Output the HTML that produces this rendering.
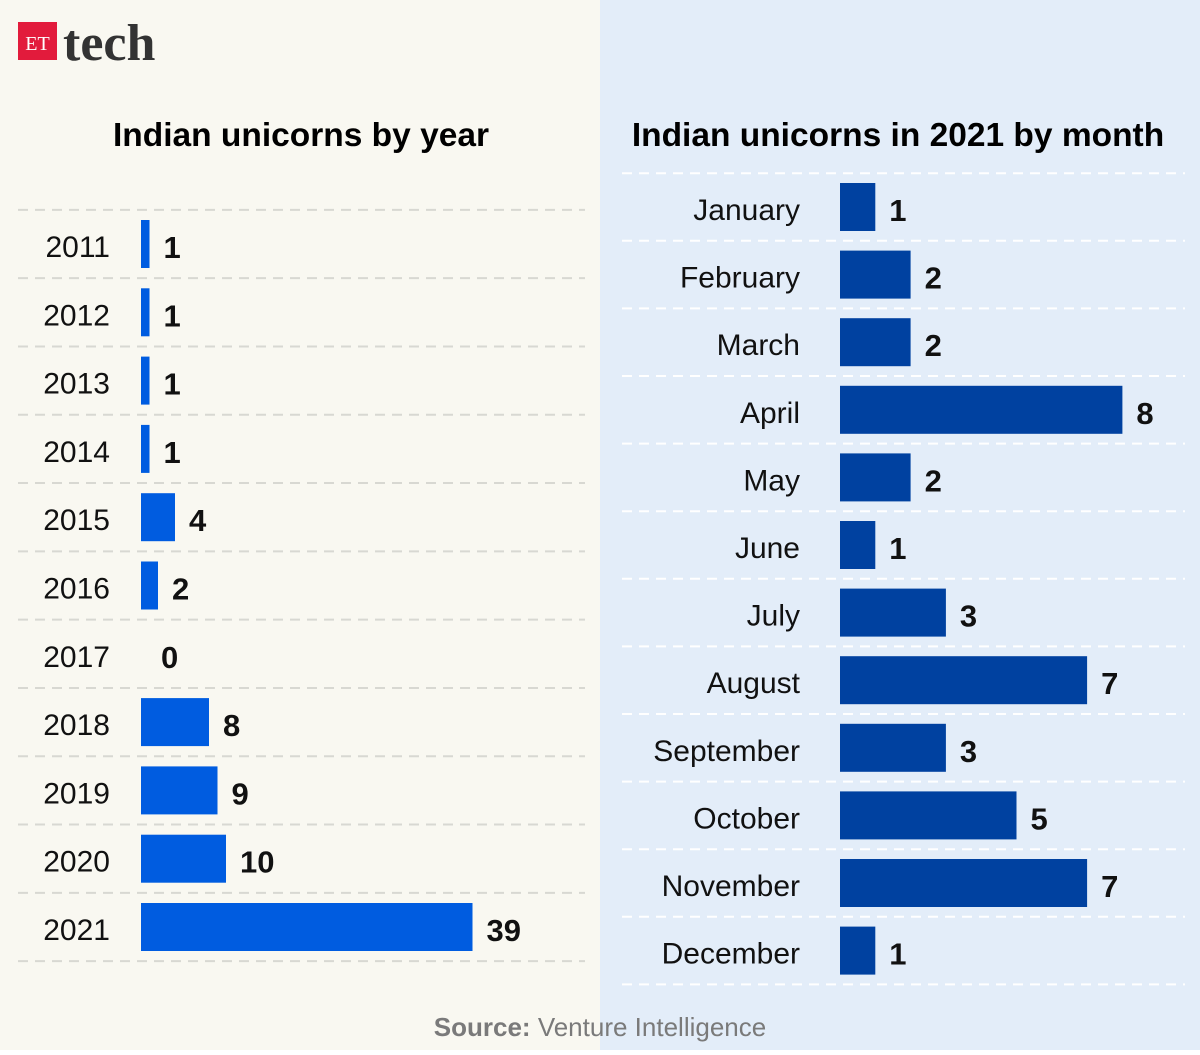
<!DOCTYPE html>
<html><head><meta charset="utf-8"><style>
body{margin:0}
svg text{font-family:"Liberation Sans",sans-serif}
</style></head><body>
<svg width="1200" height="1050" xmlns="http://www.w3.org/2000/svg">
<rect x="0" y="0" width="600" height="1050" fill="#f9f8f1"/>
<rect x="600" y="0" width="600" height="1050" fill="#e3edf9"/>
<g>
<rect x="18" y="22" width="39" height="38" fill="#e21b3c"/>
<text x="37.5" y="50" font-size="20" fill="#fff" text-anchor="middle" style="font-family:'Liberation Serif',serif">ET</text>
<text x="63" y="60" font-size="52" font-weight="bold" fill="#333" style="font-family:'Liberation Serif',serif">tech</text>
</g>
<text x="301" y="146" font-size="33.5" font-weight="bold" text-anchor="middle">Indian unicorns by year</text>
<text x="898" y="146" font-size="33.5" font-weight="bold" text-anchor="middle">Indian unicorns in 2021 by month</text>
<g id="left"></g><g id="right"></g>
<text x="600" y="1036" font-size="26" fill="#7a7a7a" text-anchor="middle"><tspan font-weight="bold">Source:</tspan> Venture Intelligence</text>
</svg>
<script>
const years=["2011","2012","2013","2014","2015","2016","2017","2018","2019","2020","2021"];
const yearCounts=[1,1,1,1,4,2,0,8,9,10,39];
const months=["January","February","March","April","May","June","July","August","September","October","November","December"];
const monthCounts=[1,2,2,8,2,1,3,7,3,5,7,1];
const NS="http://www.w3.org/2000/svg";
function mk(t,a,p){const e=document.createElementNS(NS,t);for(const k in a)e.setAttribute(k,a[k]);p.appendChild(e);return e;}
function draw(g,cats,vals,o){
  const y=i=>o.y0+i*o.step;
  const x=v=>o.x0+v*o.scale;
  for(let i=0;i<=cats.length;i++){
    const l=mk('line',{x1:o.gx1,x2:o.gx2,y1:y(i)-o.step/2,y2:y(i)-o.step/2,stroke:o.grid,'stroke-width':2,'stroke-dasharray':'10 7'},g);
    
    
  }
  cats.forEach((c,i)=>{
    const t=mk('text',{x:o.lx,y:y(i)+13,'font-size':30,'text-anchor':'end',fill:'#111'},g);t.textContent=c;
    
    
    if(vals[i]>0){const r=mk('rect',{x:o.x0,y:y(i)-24,width:x(vals[i])-o.x0,height:48,fill:o.color},g);
    
    }
    const v=mk('text',{x:x(vals[i])+(vals[i]>0?14:20),y:y(i)+14,'font-size':31,'font-weight':'bold',fill:'#111'},g);v.textContent=vals[i];
    
    
  });
}
draw(document.getElementById('left'),years,yearCounts,{y0:244,step:68.3,x0:141,scale:8.5,lx:110,gx1:18,gx2:585,grid:'#d8d8d2',color:'#005ce0'});
draw(document.getElementById('right'),months,monthCounts,{y0:207,step:67.6,x0:840,scale:35.3,lx:800,gx1:622,gx2:1185,grid:'#ffffff',color:'#0041a0'});
</script>
</body></html>
